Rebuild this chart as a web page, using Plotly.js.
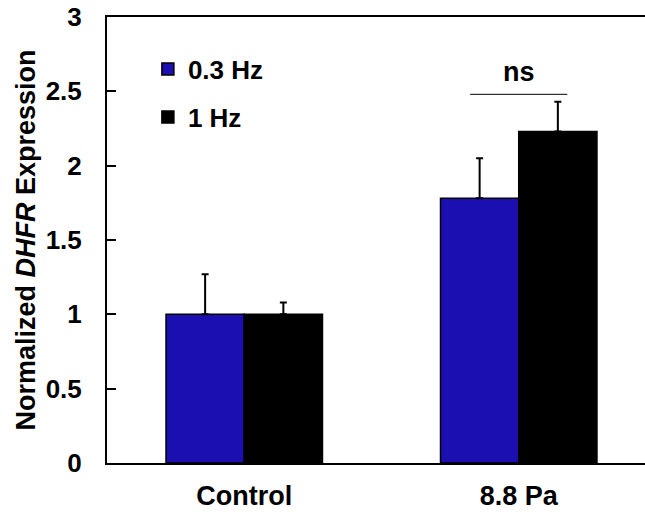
<!DOCTYPE html>
<html>
<head>
<meta charset="utf-8">
<script src="https://cdn.plot.ly/plotly-3.0.1.min.js"></script>
<style>html,body{margin:0;padding:0;background:#fff;}#chart{width:645px;height:512px;}</style>
</head>
<body>
<div id="chart"></div>
<script>
var categories = ["Control", "8.8 Pa"];
var seriesNames = ["0.3 Hz", "1 Hz"];
var values03 = [1.0, 1.78];
var errors03 = [0.27, 0.27];
var values1 = [1.0, 2.23];
var errors1 = [0.08, 0.20];
var yTicks = [0, 0.5, 1, 1.5, 2, 2.5, 3];
var yTickText = ["0", "0.5", "1", "1.5", "2", "2.5", "3"];
var sigLabel = "ns";
var sigLevel = 2.48;

var FONT = "Liberation Sans, Arial, sans-serif";
var blue = "#1b0fb1";
var FS = 27;

function errCfg(arr) {
  return {type: "data", symmetric: false, array: arr, arrayminus: arr.map(function(){return 0;}),
          color: "#000", thickness: 2, width: 3.5};
}

var traces = [
  {type: "bar", name: seriesNames[0], x: categories, y: values03,
   marker: {color: blue, line: {color: "#000", width: 1.5}},
   error_y: errCfg(errors03), legend: "legend"},
  {type: "bar", name: seriesNames[1], x: categories, y: values1,
   marker: {color: "#000", line: {color: "#000", width: 1.5}},
   error_y: errCfg(errors1), legend: "legend2"}
];

var legendFont = {family: FONT, size: 26, color: "#000", weight: "bold"};

var layout = {
  width: 645, height: 512,
  margin: {l: 107, r: 0, t: 17, b: 49, pad: 0},
  paper_bgcolor: "#fff", plot_bgcolor: "#fff",
  font: {family: FONT, size: FS, color: "#000", weight: "bold"},
  barmode: "group", bargap: 0.43, bargroupgap: 0,
  showlegend: true,
  legend: {x: 0.076, y: 1 - (69 - 17) / 446, xanchor: "left", yanchor: "middle",
           bgcolor: "rgba(0,0,0,0)", font: legendFont, itemwidth: 30},
  legend2: {x: 0.076, y: 1 - (117 - 17) / 446, xanchor: "left", yanchor: "middle",
            bgcolor: "rgba(0,0,0,0)", font: legendFont, itemwidth: 30},
  xaxis: {
    type: "category", range: [-0.5, 1.46], fixedrange: true,
    showline: true, linecolor: "#000", linewidth: 2, mirror: true,
    ticks: "", showgrid: false, zeroline: false,
    tickfont: {family: FONT, size: FS, color: "#000", weight: "bold"},
    ticklabelstandoff: 8
  },
  yaxis: {
    range: [0, 3], fixedrange: true,
    tickvals: yTicks, ticktext: yTickText,
    showline: true, linecolor: "#000", linewidth: 2, mirror: false,
    ticks: "inside", ticklen: 9, tickwidth: 2, tickcolor: "#000",
    showgrid: false, zeroline: false,
    tickfont: {family: FONT, size: 26, color: "#000", weight: "bold"},
    ticklabelstandoff: 18,
    title: {text: "Normalized <i>DHFR</i> Expression", standoff: 2,
            font: {family: FONT, size: FS, color: "#000", weight: "bold"}}
  },
  shapes: [
    {type: "line", xref: "x", yref: "y", x0: 1 - 0.177, x1: 1 + 0.177, y0: sigLevel, y1: sigLevel,
     line: {color: "#000", width: 1}}
  ],
  annotations: [
    {xref: "x", yref: "y", x: 1, y: sigLevel, text: sigLabel, showarrow: false,
     yanchor: "bottom", yshift: 5, font: {family: FONT, size: 27, color: "#000", weight: "bold"}}
  ]
};

Plotly.newPlot("chart", traces, layout, {displayModeBar: false, staticPlot: true});
</script>
</body>
</html>
